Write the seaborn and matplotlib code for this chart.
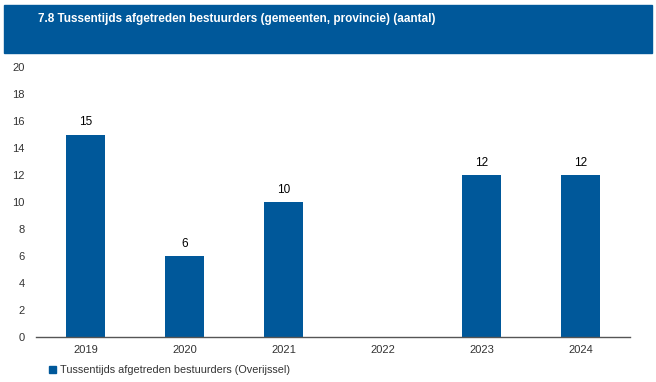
import numpy as np
import pandas as pd
import matplotlib.pyplot as plt
import seaborn as sns
from matplotlib.patches import Rectangle, Patch

years = ["2019", "2020", "2021", "2022", "2023", "2024"]
values = [15, 6, 10, np.nan, 12, 12]
series_name = "Tussentijds afgetreden bestuurders (Overijssel)"
title = "7.8 Tussentijds afgetreden bestuurders (gemeenten, provincie) (aantal)"

blue = "#00589A"

sns.set_theme(style="white")
plt.rcParams["font.family"] = ["Liberation Sans", "DejaVu Sans"]

df = pd.DataFrame({"jaar": years, "aantal": values})

fig = plt.figure(figsize=(6.56, 3.82), dpi=100)
ax = fig.add_axes([0.0549, 0.1178, 0.9055, 0.7068])

# title banner
fig.patches.append(Rectangle((4 / 656, 1 - 53 / 382), 648 / 656, 48 / 382,
                             transform=fig.transFigure, color=blue, zorder=0))
fig.text(38 / 656, 1 - 19 / 382, title, color="white", fontsize=8.5,
         fontweight="bold", va="center", ha="left")

sns.barplot(data=df, x="jaar", y="aantal", order=years, color=blue,
            width=0.4, saturation=1, linewidth=0, ax=ax)

# value labels, positioned by category index
for i, v in enumerate(values):
    if np.isnan(v):
        continue
    ax.text(i, v + 0.45, f"{int(v)}", ha="center", va="bottom",
            fontsize=8.5, color="black")

ax.set_xlim(-0.5, 5.5)
ax.set_ylim(0, 20)
ax.set_yticks(range(0, 21, 2))
ax.set_xlabel("")
ax.set_ylabel("")
for s in ["top", "right", "left"]:
    ax.spines[s].set_visible(False)
ax.spines["bottom"].set_color("#555555")
ax.spines["bottom"].set_linewidth(1)
ax.tick_params(axis="x", direction="in", length=3, color="#555555",
               labelsize=8, labelcolor="#333333", pad=6)
ax.tick_params(axis="y", length=0, labelsize=8, labelcolor="#333333", pad=8)

fig.legend(handles=[Patch(color=blue, label=series_name)],
           loc="center left", bbox_to_anchor=(44 / 656, 1 - 370 / 382),
           frameon=False, fontsize=7.8, handlelength=0.6, handleheight=0.6,
           handletextpad=0.4, labelcolor="#333333", borderpad=0)

fig.savefig("out.png", dpi=100)
